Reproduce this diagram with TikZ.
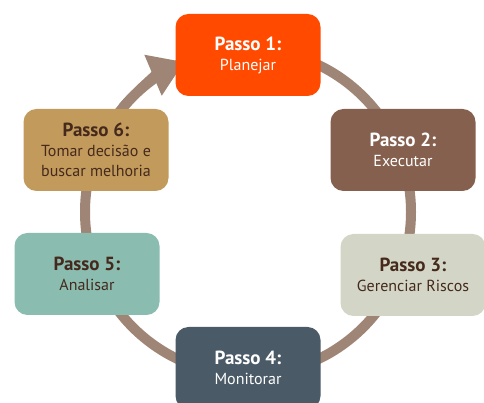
\documentclass[tikz,border=0pt]{standalone}
\usepackage{fontspec}
\setmainfont{PT Sans}
\usetikzlibrary{arrows.meta}

\definecolor{ring}{HTML}{9E8576}
\definecolor{passoA}{HTML}{FF4A00}
\definecolor{passoB}{HTML}{86604E}
\definecolor{passoC}{HTML}{D3D6C6}
\definecolor{passoD}{HTML}{4A5A66}
\definecolor{passoE}{HTML}{8ABCB0}
\definecolor{passoF}{HTML}{C29B5C}
\definecolor{darktxt}{HTML}{45291C}

\tikzset{
  passo/.style={rounded corners=13pt, minimum width=145pt, minimum height=82pt,
    align=center, font=\fontsize{16}{20}\selectfont, inner sep=2pt},
  lighttxt/.style={text=white},
  darkbox/.style={text=darktxt}
}

\begin{document}
\begin{tikzpicture}[x=1pt,y=1pt]
            \useasboundingbox (0,0) rectangle (484,403);
            \clip (0,0) rectangle (484,403);
            \fill[white] (0,0) rectangle (484,403);
            % ring and arrow
            \coordinate (centro) at (248,191);
            \draw[ring, line width=10pt] (centro) circle (163pt);
            \draw[ring, line width=10pt, -{Triangle[length=34pt,width=42pt]}]
                (centro) ++(140:163pt) arc (140:113:163pt);
            % steps
            \node[passo, fill=passoA, lighttxt] (p1) at (248,348) {\textbf{\fontsize{19}{22}\selectfont Passo 1:}\\Planejar};
            \node[passo, fill=passoB, lighttxt] (p2) at (403,253) {\textbf{\fontsize{19}{22}\selectfont Passo 2:}\\Executar};
            \node[passo, fill=passoC, darkbox] (p3) at (413,128) {\textbf{\fontsize{19}{22}\selectfont Passo 3:}\\Gerenciar Riscos};
            \node[passo, fill=passoD, lighttxt] (p4) at (248,35) {\textbf{\fontsize{19}{22}\selectfont Passo 4:}\\Monitorar};
            \node[passo, fill=passoE, darkbox] (p5) at (87,129) {\textbf{\fontsize{19}{22}\selectfont Passo 5:}\\Analisar};
            \node[passo, fill=passoF, darkbox] (p6) at (96,253) {\textbf{\fontsize{19}{22}\selectfont Passo 6:}\\Tomar decisão e\\buscar melhoria};
        \end{tikzpicture}
\end{document}
